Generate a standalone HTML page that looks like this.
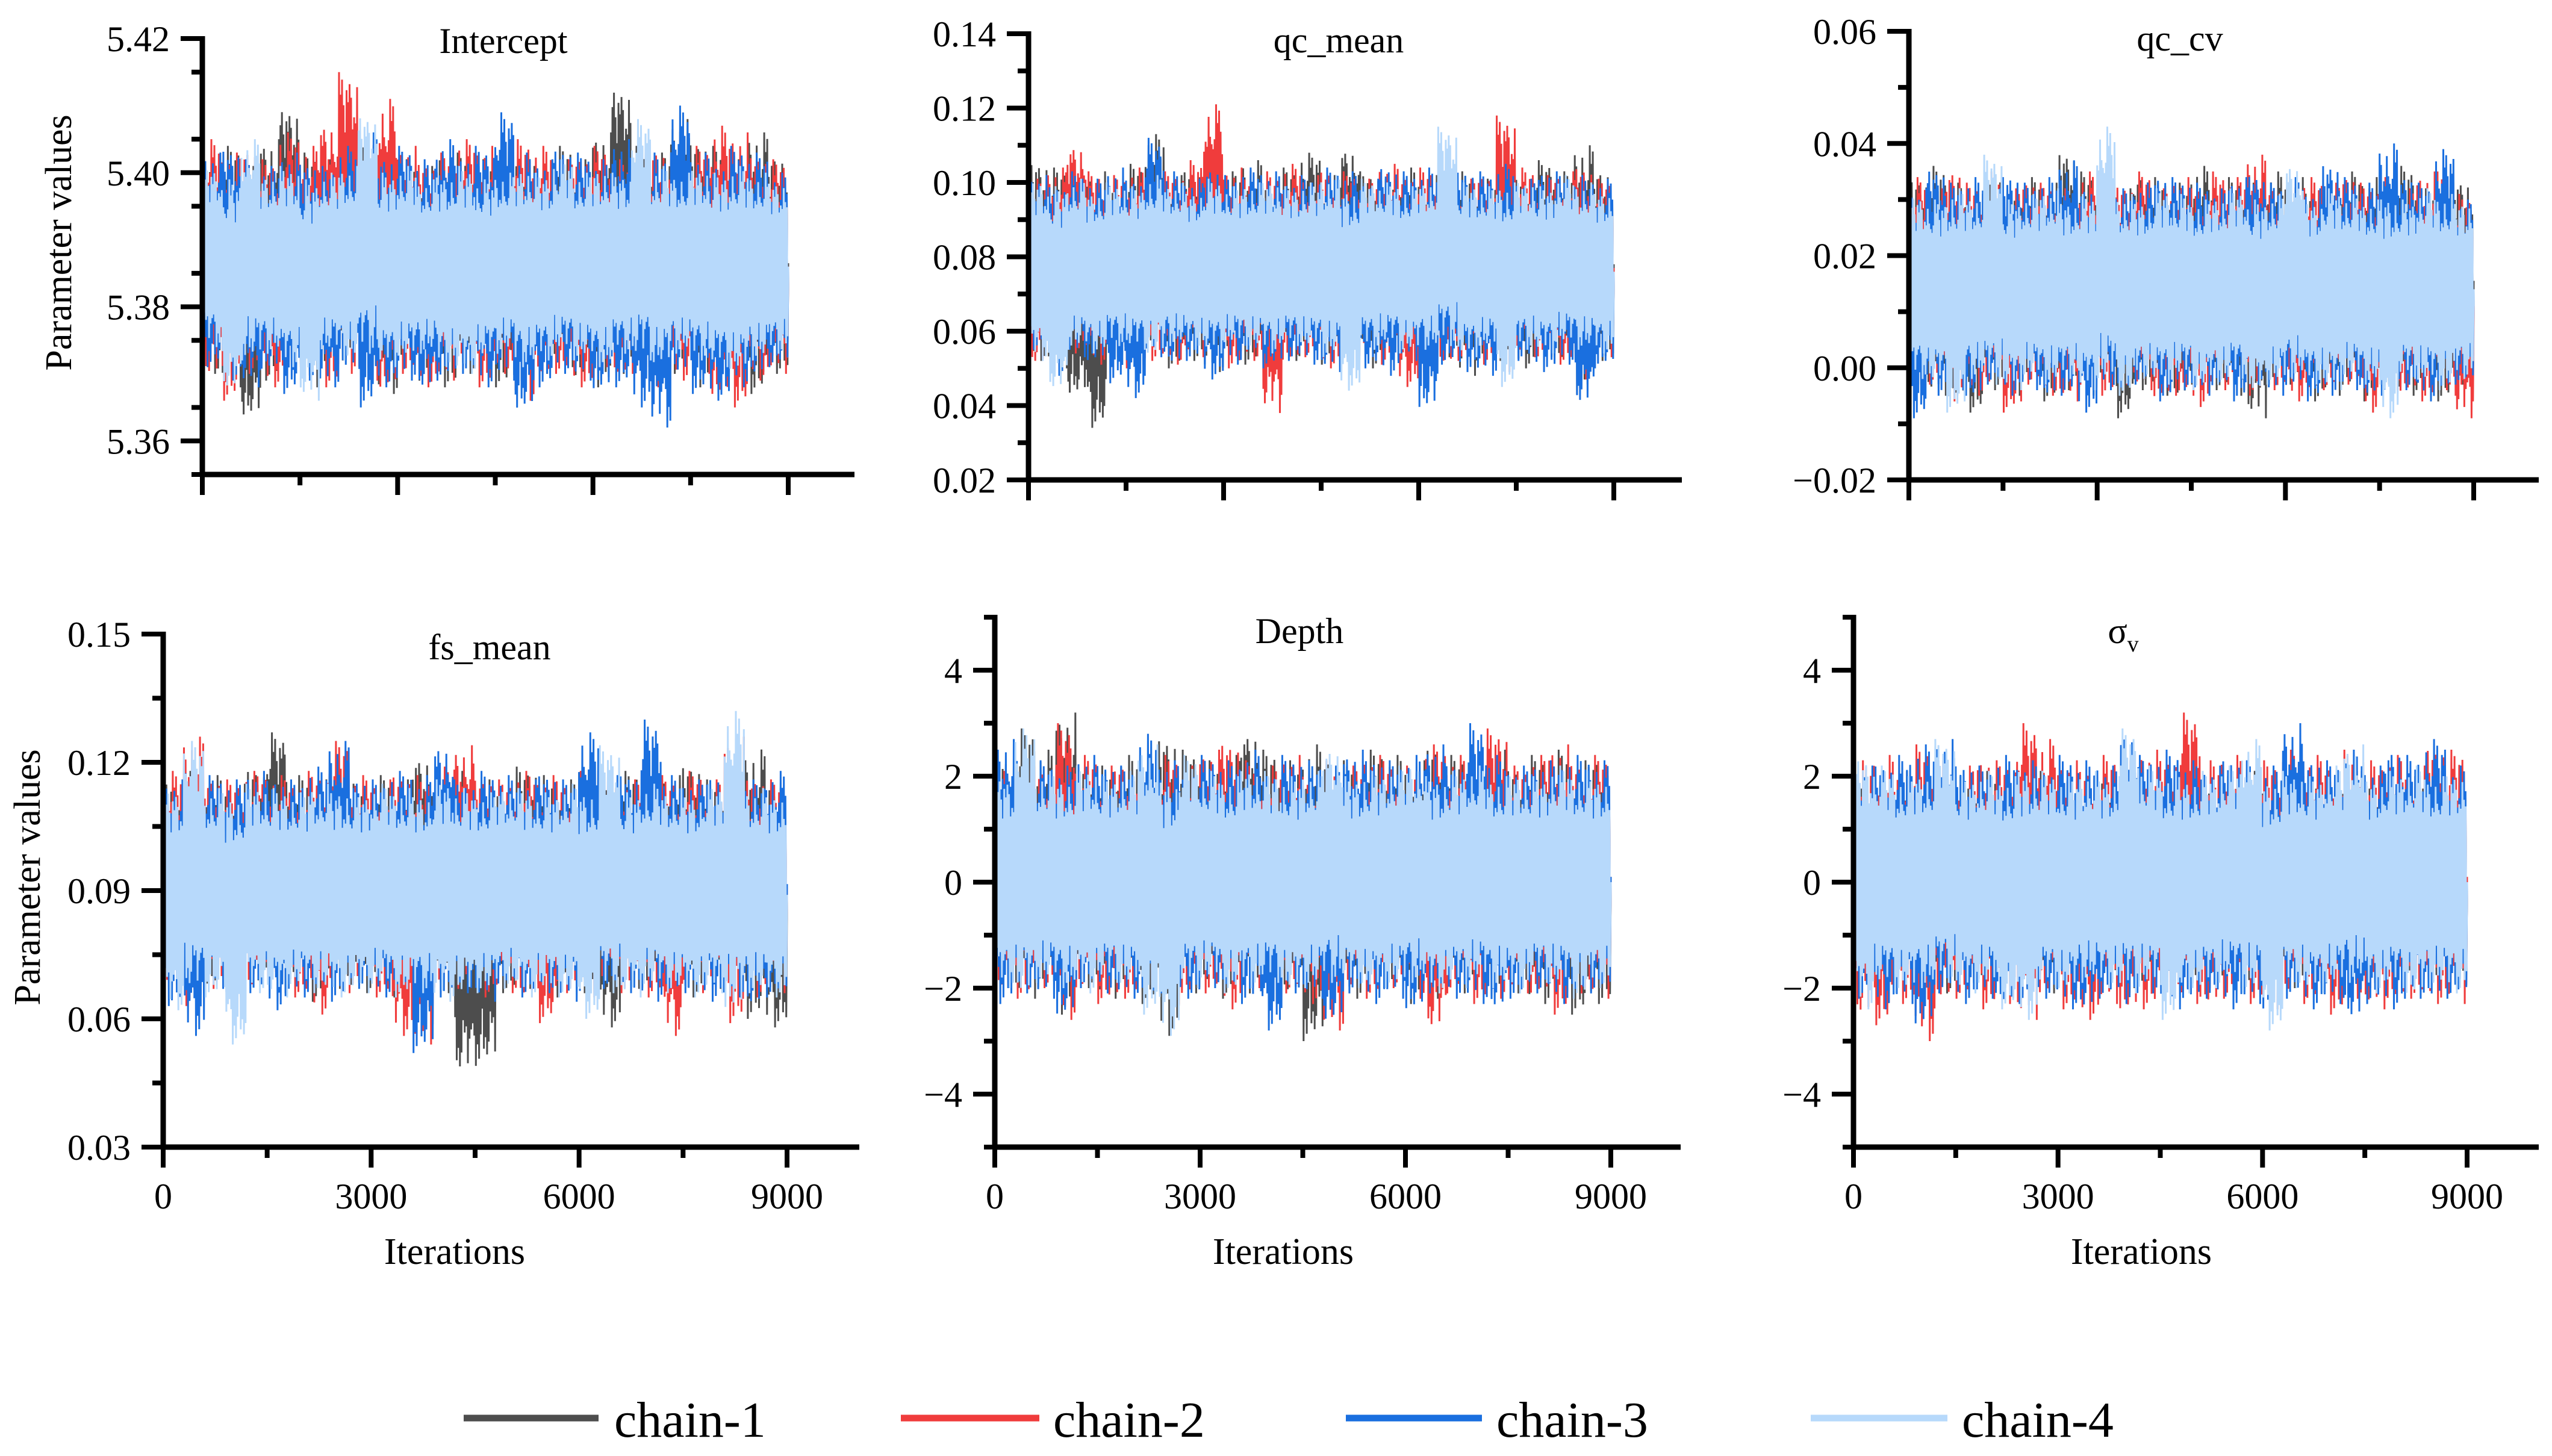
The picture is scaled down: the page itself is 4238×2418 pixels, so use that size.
<!DOCTYPE html>
<html>
<head>
<meta charset="utf-8">
<style>
  html, body { margin: 0; padding: 0; background: #ffffff; }
  svg { display: block; }
  text { font-family: "Liberation Serif", serif; fill: #000; }
</style>
</head>
<body>
<svg id="fig" xmlns="http://www.w3.org/2000/svg" width="4238" height="2418" viewBox="0 0 4238 2418">
  <rect x="0" y="0" width="4238" height="2418" fill="#ffffff"/>
  <g id="panels"></g>
  <g id="legend">
    <line x1="770" y1="2355" x2="994" y2="2355" stroke="#4d4d4d" stroke-width="11"/>
    <text x="1020" y="2386" font-size="84">chain-1</text>
    <line x1="1496" y1="2355" x2="1726" y2="2355" stroke="#f03c3c" stroke-width="11"/>
    <text x="1749" y="2386" font-size="84">chain-2</text>
    <line x1="2235" y1="2355" x2="2461" y2="2355" stroke="#1a6fdf" stroke-width="11"/>
    <text x="2485" y="2386" font-size="84">chain-3</text>
    <line x1="3007" y1="2355" x2="3234" y2="2355" stroke="#b7d9fb" stroke-width="11"/>
    <text x="3258" y="2386" font-size="84">chain-4</text>
  </g>
</svg>
<script>
// ---- data: per-bin (300 iterations) upper/lower trace envelopes ----
const binIterations = 300;
const xTickValues = [0, 3000, 6000, 9000];

const interceptChain1Hi = [5.402,5.404,5.401,5.405,5.410,5.403,5.402,5.404,5.406,5.403,5.402,5.401,5.404,5.403,5.402,5.405,5.403,5.401,5.404,5.402,5.406,5.413,5.404,5.403,5.408,5.405,5.404,5.402,5.406,5.403];
const interceptChain1Lo = [5.370,5.368,5.363,5.369,5.371,5.368,5.370,5.372,5.369,5.367,5.371,5.369,5.368,5.370,5.372,5.368,5.369,5.370,5.371,5.369,5.368,5.370,5.371,5.369,5.370,5.368,5.369,5.371,5.367,5.370];
const interceptChain2Hi = [5.405,5.403,5.404,5.402,5.406,5.404,5.408,5.415,5.403,5.411,5.404,5.402,5.403,5.405,5.404,5.403,5.405,5.404,5.402,5.403,5.404,5.402,5.403,5.404,5.402,5.404,5.407,5.406,5.403,5.402];
const interceptChain2Lo = [5.369,5.366,5.370,5.368,5.369,5.371,5.368,5.370,5.369,5.367,5.370,5.368,5.369,5.371,5.368,5.370,5.366,5.369,5.370,5.368,5.371,5.369,5.370,5.368,5.369,5.370,5.366,5.365,5.369,5.370];
const interceptChain3Hi = [5.403,5.404,5.402,5.401,5.403,5.402,5.401,5.404,5.406,5.403,5.404,5.402,5.405,5.403,5.404,5.409,5.403,5.402,5.404,5.403,5.402,5.405,5.404,5.403,5.410,5.403,5.402,5.404,5.403,5.400];
const interceptChain3Lo = [5.371,5.369,5.368,5.370,5.367,5.369,5.368,5.370,5.365,5.368,5.369,5.367,5.369,5.370,5.368,5.369,5.364,5.368,5.370,5.369,5.367,5.368,5.365,5.362,5.369,5.367,5.366,5.368,5.369,5.371];
const interceptChain4Hi = [5.401,5.399,5.405,5.400,5.401,5.399,5.400,5.401,5.409,5.400,5.401,5.399,5.400,5.401,5.399,5.400,5.401,5.400,5.402,5.400,5.401,5.400,5.408,5.401,5.400,5.401,5.400,5.401,5.400,5.399];
const interceptChain4Lo = [5.374,5.367,5.372,5.373,5.371,5.366,5.373,5.372,5.373,5.371,5.372,5.373,5.371,5.370,5.372,5.373,5.371,5.372,5.373,5.372,5.371,5.373,5.372,5.371,5.373,5.372,5.371,5.370,5.372,5.373];

const qcMeanChain1Hi = [0.106,0.104,0.101,0.103,0.100,0.105,0.113,0.102,0.104,0.101,0.103,0.106,0.101,0.104,0.108,0.102,0.110,0.103,0.101,0.104,0.102,0.105,0.103,0.101,0.104,0.102,0.106,0.103,0.110,0.104];
const qcMeanChain1Lo = [0.052,0.050,0.042,0.034,0.053,0.051,0.054,0.050,0.052,0.049,0.053,0.051,0.050,0.052,0.054,0.051,0.053,0.050,0.052,0.051,0.049,0.053,0.048,0.051,0.052,0.050,0.053,0.051,0.043,0.052];
const qcMeanChain2Hi = [0.101,0.104,0.111,0.103,0.102,0.104,0.101,0.103,0.106,0.121,0.104,0.102,0.103,0.105,0.102,0.104,0.103,0.101,0.105,0.103,0.104,0.102,0.101,0.103,0.118,0.104,0.102,0.103,0.105,0.101];
const qcMeanChain2Lo = [0.050,0.052,0.054,0.051,0.053,0.050,0.052,0.051,0.053,0.054,0.050,0.052,0.038,0.051,0.053,0.050,0.052,0.054,0.051,0.045,0.053,0.050,0.052,0.051,0.049,0.053,0.052,0.051,0.047,0.053];
const qcMeanChain3Hi = [0.102,0.100,0.103,0.101,0.104,0.102,0.112,0.103,0.101,0.105,0.102,0.104,0.103,0.101,0.102,0.104,0.103,0.101,0.105,0.103,0.104,0.102,0.104,0.103,0.105,0.101,0.104,0.103,0.102,0.101];
const qcMeanChain3Lo = [0.055,0.048,0.053,0.051,0.046,0.042,0.053,0.050,0.052,0.047,0.051,0.053,0.050,0.052,0.051,0.049,0.053,0.050,0.048,0.052,0.038,0.051,0.049,0.048,0.050,0.052,0.049,0.051,0.039,0.050];
const qcMeanChain4Hi = [0.101,0.099,0.101,0.098,0.100,0.099,0.102,0.100,0.098,0.101,0.099,0.100,0.101,0.099,0.100,0.102,0.099,0.101,0.100,0.099,0.101,0.115,0.100,0.099,0.100,0.101,0.099,0.102,0.100,0.098];
const qcMeanChain4Lo = [0.052,0.043,0.055,0.054,0.056,0.055,0.053,0.056,0.055,0.054,0.056,0.055,0.054,0.056,0.055,0.053,0.044,0.055,0.056,0.054,0.055,0.056,0.053,0.055,0.045,0.055,0.054,0.056,0.055,0.054];

const qcCvChain1Hi = [0.034,0.036,0.033,0.031,0.035,0.032,0.034,0.033,0.039,0.035,0.033,0.032,0.035,0.034,0.033,0.036,0.032,0.034,0.033,0.035,0.034,0.032,0.033,0.035,0.034,0.033,0.036,0.032,0.034,0.034];
const qcCvChain1Lo = [-0.003,-0.005,-0.006,-0.008,-0.004,-0.005,-0.003,-0.006,-0.004,-0.005,-0.003,-0.009,-0.004,-0.005,-0.006,-0.003,-0.004,-0.005,-0.009,-0.004,-0.003,-0.006,-0.005,-0.004,-0.006,-0.003,-0.005,-0.004,-0.006,-0.003];
const qcCvChain2Hi = [0.034,0.032,0.036,0.033,0.035,0.032,0.034,0.033,0.032,0.035,0.034,0.033,0.035,0.032,0.034,0.033,0.035,0.034,0.038,0.033,0.032,0.034,0.033,0.035,0.033,0.034,0.032,0.035,0.036,0.031];
const qcCvChain2Lo = [-0.004,-0.003,-0.006,-0.005,-0.004,-0.008,-0.003,-0.005,-0.006,-0.004,-0.005,-0.003,-0.004,-0.006,-0.005,-0.007,-0.004,-0.003,-0.005,-0.004,-0.006,-0.005,-0.004,-0.003,-0.008,-0.004,-0.005,-0.006,-0.004,-0.009];
const qcCvChain3Hi = [0.032,0.036,0.033,0.034,0.032,0.035,0.033,0.034,0.037,0.033,0.034,0.032,0.033,0.035,0.034,0.033,0.032,0.034,0.035,0.033,0.034,0.032,0.037,0.034,0.033,0.040,0.035,0.033,0.039,0.030];
const qcCvChain3Lo = [-0.009,-0.005,-0.004,-0.006,-0.003,-0.005,-0.004,-0.006,-0.005,-0.008,-0.004,-0.005,-0.003,-0.006,-0.004,-0.005,-0.004,-0.006,-0.003,-0.005,-0.004,-0.006,-0.005,-0.004,-0.006,-0.005,-0.004,-0.006,-0.005,-0.003];
const qcCvChain4Hi = [0.031,0.030,0.032,0.031,0.038,0.030,0.031,0.032,0.030,0.031,0.043,0.031,0.030,0.032,0.031,0.030,0.031,0.032,0.030,0.031,0.037,0.030,0.032,0.031,0.030,0.031,0.030,0.032,0.031,0.030];
const qcCvChain4Lo = [-0.002,-0.003,-0.008,-0.002,-0.003,-0.004,-0.002,-0.003,-0.002,-0.004,-0.003,-0.005,-0.002,-0.003,-0.002,-0.004,-0.003,-0.002,-0.005,-0.003,-0.002,-0.003,-0.004,-0.002,-0.003,-0.009,-0.002,-0.003,-0.004,-0.002];

const fsMeanChain1Hi = [0.116,0.118,0.117,0.115,0.119,0.127,0.117,0.116,0.118,0.115,0.117,0.116,0.122,0.117,0.118,0.116,0.115,0.119,0.117,0.116,0.121,0.117,0.118,0.116,0.117,0.120,0.116,0.118,0.123,0.117];
const fsMeanChain1Lo = [0.068,0.066,0.067,0.065,0.069,0.066,0.068,0.064,0.067,0.066,0.068,0.065,0.067,0.066,0.046,0.049,0.066,0.067,0.065,0.068,0.066,0.058,0.067,0.066,0.068,0.065,0.067,0.066,0.060,0.058];
const fsMeanChain2Hi = [0.118,0.126,0.117,0.116,0.118,0.117,0.116,0.118,0.125,0.117,0.116,0.118,0.117,0.119,0.124,0.117,0.116,0.118,0.117,0.116,0.118,0.117,0.116,0.124,0.117,0.118,0.116,0.126,0.117,0.116];
const fsMeanChain2Lo = [0.066,0.063,0.067,0.065,0.066,0.068,0.065,0.061,0.066,0.067,0.065,0.056,0.054,0.066,0.067,0.065,0.066,0.064,0.059,0.066,0.065,0.067,0.066,0.065,0.056,0.066,0.067,0.059,0.065,0.066];
const fsMeanChain3Hi = [0.116,0.119,0.117,0.116,0.118,0.117,0.116,0.119,0.125,0.117,0.116,0.118,0.117,0.125,0.116,0.118,0.117,0.116,0.118,0.116,0.127,0.117,0.118,0.130,0.117,0.116,0.118,0.117,0.116,0.118];
const fsMeanChain3Lo = [0.063,0.056,0.067,0.065,0.066,0.062,0.065,0.066,0.064,0.067,0.065,0.066,0.052,0.065,0.066,0.064,0.067,0.065,0.066,0.064,0.065,0.067,0.066,0.064,0.065,0.066,0.064,0.065,0.062,0.065];
const fsMeanChain4Hi = [0.114,0.125,0.114,0.113,0.115,0.114,0.113,0.115,0.114,0.113,0.115,0.114,0.113,0.116,0.114,0.113,0.115,0.114,0.113,0.115,0.114,0.124,0.113,0.115,0.114,0.113,0.115,0.132,0.114,0.113];
const fsMeanChain4Lo = [0.062,0.066,0.065,0.054,0.066,0.065,0.067,0.066,0.065,0.066,0.067,0.065,0.066,0.064,0.065,0.066,0.067,0.065,0.066,0.065,0.060,0.066,0.065,0.067,0.066,0.065,0.066,0.061,0.066,0.065];

const depthChain1Hi = [2.4,2.9,2.5,3.2,2.3,2.2,2.4,2.3,2.8,2.5,2.3,2.4,2.9,2.5,2.3,2.6,2.4,2.3,2.5,2.4,2.3,2.6,2.4,2.3,2.5,2.2,2.4,2.5,2.3,2.4];
const depthChain1Lo = [-2.0,-2.2,-2.1,-2.5,-2.0,-2.2,-2.1,-2.3,-2.9,-2.1,-2.0,-2.2,-2.1,-2.3,-2.2,-3.0,-2.1,-2.2,-2.0,-2.1,-2.3,-2.2,-2.1,-2.0,-2.2,-2.1,-2.3,-2.1,-2.5,-2.3];
const depthChain2Hi = [2.1,2.3,2.2,3.0,2.4,2.2,2.3,2.1,2.4,2.2,2.5,2.7,2.3,2.2,2.4,2.1,2.3,2.2,2.4,2.3,2.2,2.6,2.4,2.3,2.9,2.2,2.4,2.6,2.3,2.4];
const depthChain2Lo = [-2.1,-2.2,-2.0,-2.6,-2.1,-2.3,-2.2,-2.1,-2.3,-2.2,-2.1,-2.4,-2.0,-2.2,-2.1,-2.3,-2.8,-2.1,-2.2,-2.0,-2.2,-2.9,-2.1,-2.3,-2.2,-2.1,-2.2,-2.5,-2.1,-2.2];
const depthChain3Hi = [2.7,2.4,2.3,2.2,2.4,2.3,2.2,2.8,2.3,2.2,2.4,2.3,2.5,2.2,2.4,2.3,2.2,2.5,2.4,2.3,2.4,2.6,2.3,3.0,2.4,2.2,2.3,2.3,2.4,2.3];
const depthChain3Lo = [-2.3,-2.1,-2.2,-2.6,-2.0,-2.1,-2.2,-2.3,-2.1,-2.2,-2.0,-2.1,-2.3,-2.8,-2.1,-2.2,-2.7,-2.1,-2.3,-2.2,-2.5,-2.1,-2.2,-2.3,-2.5,-2.2,-2.1,-2.3,-2.2,-2.1];
const depthChain4Hi = [2.0,2.9,2.1,2.0,2.2,2.0,2.1,2.6,2.0,2.4,2.1,2.0,2.2,2.1,2.0,2.1,2.6,2.0,2.1,2.2,2.3,2.0,2.1,2.2,2.0,2.1,2.0,2.2,2.1,2.0];
const depthChain4Lo = [-2.0,-2.2,-1.9,-2.0,-2.1,-1.9,-2.0,-2.5,-2.9,-2.0,-1.9,-2.1,-2.0,-1.9,-2.1,-2.0,-1.9,-2.0,-2.1,-2.0,-1.9,-2.1,-2.0,-1.9,-2.0,-2.1,-1.9,-2.0,-2.2,-2.0];

const sigmaChain1Hi = [2.0,1.9,2.1,2.0,1.9,2.0,2.1,1.9,2.0,2.1,1.9,2.0,2.1,2.0,1.9,2.0,2.1,1.9,2.0,2.1,1.9,2.0,2.0,1.9,2.1,2.0,1.9,2.0,2.1,1.9];
const sigmaChain1Lo = [-1.9,-2.0,-1.9,-2.0,-2.1,-1.9,-2.0,-1.9,-2.0,-2.1,-1.9,-2.0,-1.9,-2.0,-2.1,-1.9,-2.0,-1.9,-2.0,-2.1,-1.9,-2.0,-1.9,-2.0,-2.1,-1.9,-2.0,-1.9,-2.0,-1.9];
const sigmaChain2Hi = [2.3,2.4,2.2,2.6,2.3,2.2,2.4,2.3,3.0,2.7,2.3,2.2,2.4,2.3,2.5,2.4,3.2,2.3,2.4,2.2,2.3,2.5,2.4,2.3,2.5,2.3,2.4,2.2,2.6,2.5];
const sigmaChain2Lo = [-2.6,-2.7,-2.3,-3.0,-2.3,-2.2,-2.4,-2.3,-2.6,-2.2,-2.4,-2.6,-2.3,-2.5,-2.4,-2.2,-2.3,-2.4,-2.2,-2.3,-2.4,-2.2,-2.3,-2.5,-2.2,-2.4,-2.3,-2.2,-2.3,-2.3];
const sigmaChain3Hi = [2.2,2.3,2.4,2.6,2.7,2.3,2.2,2.4,2.3,2.2,2.4,2.3,2.2,2.9,2.4,2.5,2.3,2.2,2.4,2.3,2.2,3.0,2.4,2.3,2.5,2.2,2.6,2.4,2.7,2.2];
const sigmaChain3Lo = [-2.2,-2.4,-2.3,-2.8,-2.1,-2.3,-2.2,-2.4,-2.3,-2.2,-2.4,-2.5,-2.2,-2.3,-2.1,-2.4,-2.3,-2.2,-2.4,-2.3,-2.5,-2.2,-2.4,-2.3,-2.7,-2.3,-2.4,-2.2,-2.3,-2.2];
const sigmaChain4Hi = [2.4,2.2,2.0,2.1,2.7,2.0,2.1,2.0,2.2,2.1,2.0,2.1,2.0,2.9,2.2,2.1,2.0,2.1,2.2,2.7,2.0,2.1,2.0,2.2,2.6,2.0,2.1,2.2,2.0,2.1];
const sigmaChain4Lo = [-2.4,-2.0,-2.1,-2.0,-1.9,-2.1,-2.0,-2.4,-2.6,-2.0,-2.1,-1.9,-2.0,-2.1,-2.0,-2.6,-2.1,-2.0,-1.9,-2.1,-2.8,-2.0,-2.1,-2.0,-1.9,-2.1,-2.0,-2.2,-2.0,-2.1];

const interceptTicks = [5.36, 5.38, 5.40, 5.42];
const qcMeanTicks = [0.02, 0.04, 0.06, 0.08, 0.10, 0.12, 0.14];
const qcCvTicks = [-0.02, 0.00, 0.02, 0.04, 0.06];
const fsMeanTicks = [0.03, 0.06, 0.09, 0.12, 0.15];
const depthTicks = [-4, -2, 0, 2, 4];
const sigmaTicks = [-4, -2, 0, 2, 4];

// ---- layout (pixels) ----
const chainColors = ['#4d4d4d', '#f03c3c', '#1a6fdf', '#b7d9fb'];
const zigzag = [1.0, 0.62, 0.85, 0.7, 0.95, 0.66, 0.78, 0.9, 0.6, 0.74, 0.88, 0.68, 0.8, 0.64, 0.92, 0.72, 0.83];
const panels = [
  { key: 'intercept', title: 'Intercept', x0: 336, x9: 1309, xe: 1419, yb: 788, yt: 64, vmin: 5.355, vmax: 5.42, ticks: interceptTicks, minor: 0.01, dec: 2, tx: 836, ty: 88, xlabels: false, yl: {x: 98, y: 403},
    chains: [[interceptChain1Hi, interceptChain1Lo],[interceptChain2Hi, interceptChain2Lo],[interceptChain3Hi, interceptChain3Lo],[interceptChain4Hi, interceptChain4Lo]] },
  { key: 'qc-mean', title: 'qc_mean', x0: 1708, x9: 2680, xe: 2793, yb: 797, yt: 56, vmin: 0.02, vmax: 0.14, ticks: qcMeanTicks, minor: 0.01, dec: 2, tx: 2223, ty: 87, xlabels: false,
    chains: [[qcMeanChain1Hi, qcMeanChain1Lo],[qcMeanChain2Hi, qcMeanChain2Lo],[qcMeanChain3Hi, qcMeanChain3Lo],[qcMeanChain4Hi, qcMeanChain4Lo]] },
  { key: 'qc-cv', title: 'qc_cv', x0: 3170, x9: 4108, xe: 4216, yb: 797, yt: 52, vmin: -0.02, vmax: 0.06, ticks: qcCvTicks, minor: 0.01, dec: 2, tx: 3620, ty: 84, xlabels: false,
    chains: [[qcCvChain1Hi, qcCvChain1Lo],[qcCvChain2Hi, qcCvChain2Lo],[qcCvChain3Hi, qcCvChain3Lo],[qcCvChain4Hi, qcCvChain4Lo]] },
  { key: 'fs-mean', title: 'fs_mean', x0: 271, x9: 1307, xe: 1427, yb: 1905, yt: 1053, vmin: 0.03, vmax: 0.15, ticks: fsMeanTicks, minor: 0.015, dec: 2, tx: 813, ty: 1095, xlabels: true, il: 755, yl: {x: 46, y: 1457},
    chains: [[fsMeanChain1Hi, fsMeanChain1Lo],[fsMeanChain2Hi, fsMeanChain2Lo],[fsMeanChain3Hi, fsMeanChain3Lo],[fsMeanChain4Hi, fsMeanChain4Lo]] },
  { key: 'depth', title: 'Depth', x0: 1652, x9: 2675, xe: 2791, yb: 1905, yt: 1025, vmin: -5, vmax: 5, ticks: depthTicks, minor: 1, dec: 0, tx: 2158, ty: 1068, xlabels: true, il: 2131,
    chains: [[depthChain1Hi, depthChain1Lo],[depthChain2Hi, depthChain2Lo],[depthChain3Hi, depthChain3Lo],[depthChain4Hi, depthChain4Lo]] },
  { key: 'sigma-v', title: 'σ', sub: 'v', x0: 3078, x9: 4097, xe: 4216, yb: 1905, yt: 1025, vmin: -5, vmax: 5, ticks: sigmaTicks, minor: 1, dec: 0, tx: 3526, ty: 1068, xlabels: true, il: 3556,
    chains: [[sigmaChain1Hi, sigmaChain1Lo],[sigmaChain2Hi, sigmaChain2Lo],[sigmaChain3Hi, sigmaChain3Lo],[sigmaChain4Hi, sigmaChain4Lo]] }
];

const NS = 'http://www.w3.org/2000/svg';
function mk(tag, attrs, parent) {
  const el = document.createElementNS(NS, tag);
  for (const k in attrs) el.setAttribute(k, attrs[k]);
  parent.appendChild(el);
  return el;
}
function fmt(v, dec) {
  const s = Math.abs(v).toFixed(dec);
  return (v < -1e-9 ? '\u2212' : '') + s;
}

const root = document.getElementById('panels');
panels.forEach(function (p) {
  const xScale = function (it) { return p.x0 + it / 9000 * (p.x9 - p.x0); };
  const yScale = function (v) { return p.yb - (v - p.vmin) / (p.vmax - p.vmin) * (p.yb - p.yt); };
  const g = mk('g', {}, root);
  
  

  // traces
  p.chains.forEach(function (ch, ci) {
    const hi = ch[0], lo = ch[1];
    const K = 26;
    const pts = [];
    for (let b = 0; b < hi.length; b++) {
      const mid = (hi[b] + lo[b]) / 2;
      for (let k = 0; k < K; k++) {
        const it = (b + k / K) * binIterations;
        const f = zigzag[(b * K + k + ci * 5) % zigzag.length];
        const v = (k % 2 === 0) ? mid + f * (hi[b] - mid) : mid - f * (mid - lo[b]);
        pts.push(xScale(it).toFixed(1) + ',' + yScale(v).toFixed(1));
      }
    }
    const last = hi.length - 1;
    pts.push(xScale(hi.length * binIterations).toFixed(1) + ',' + yScale((hi[last] + lo[last]) / 2).toFixed(1));
    const pl = mk('polyline', { points: pts.join(' '), fill: 'none', stroke: chainColors[ci], 'stroke-width': 3, 'stroke-linejoin': 'bevel' }, g);
    
    
  });

  // y axis
  const ya = mk('line', { x1: p.x0, y1: yScale(p.vmax) - 4, x2: p.x0, y2: p.yb + 4, stroke: '#000', 'stroke-width': 9 }, g);
  
  
  for (let v = p.vmin; v <= p.vmax + 1e-9; v += p.minor) {
    const yy = yScale(v);
    const isMajor = p.ticks.some(function (t) { return Math.abs(t - v) < p.minor / 10; });
    if (isMajor) continue;
    const mt = mk('line', { x1: p.x0 - 18, y1: yy, x2: p.x0, y2: yy, stroke: '#000', 'stroke-width': 8 }, g);
    
    
  }
  p.ticks.forEach(function (t) {
    const yy = yScale(t);
    const tk = mk('line', { x1: p.x0 - 36, y1: yy, x2: p.x0, y2: yy, stroke: '#000', 'stroke-width': 8 }, g);
    
    
    const lb = mk('text', { x: p.x0 - 54, y: yy + 21, 'font-size': 60, 'text-anchor': 'end' }, g);
    lb.textContent = fmt(t, p.dec);
    
    
  });

  // x axis
  const xa = mk('line', { x1: p.x0 - 4, y1: p.yb, x2: p.xe, y2: p.yb, stroke: '#000', 'stroke-width': 9 }, g);
  
  
  for (let i = 0; i < xTickValues.length - 1; i++) {
    const m = (xTickValues[i] + xTickValues[i + 1]) / 2;
    const mt = mk('line', { x1: xScale(m), y1: p.yb, x2: xScale(m), y2: p.yb + 18, stroke: '#000', 'stroke-width': 8 }, g);
    
    
  }
  xTickValues.forEach(function (t) {
    const xx = xScale(t);
    const tk = mk('line', { x1: xx, y1: p.yb, x2: xx, y2: p.yb + 34, stroke: '#000', 'stroke-width': 8 }, g);
    
    
    if (p.xlabels) {
      const lb = mk('text', { x: xx, y: p.yb + 102, 'font-size': 60, 'text-anchor': 'middle' }, g);
      lb.textContent = String(t);
      
      
    }
  });
  if (p.xlabels) {
    const il = mk('text', { x: p.il, y: 2099, 'font-size': 62, 'text-anchor': 'middle' }, g);
    il.textContent = 'Iterations';
    
    
  }

  // title
  const tt = mk('text', { x: p.tx, y: p.ty, 'font-size': 60, 'text-anchor': 'middle' }, g);
  tt.textContent = p.title;
  if (p.sub) {
    const ts = mk('tspan', { 'font-size': 38, dy: 14 }, tt);
    ts.textContent = p.sub;
  }
  
  

  if (p.yl) {
    const yl = mk('text', { x: p.yl.x, y: p.yl.y, 'font-size': 62, 'text-anchor': 'middle', transform: 'rotate(-90 ' + p.yl.x + ' ' + p.yl.y + ')', 'dominant-baseline': 'central' }, g);
    yl.textContent = 'Parameter values';
    
    
  }
});
</script>
</body>
</html>
